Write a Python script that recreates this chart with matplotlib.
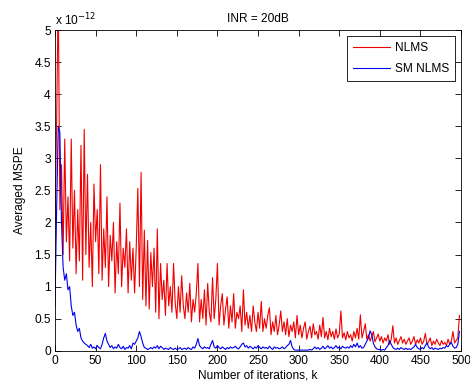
import numpy as np
import matplotlib
matplotlib.use("Agg")
import matplotlib.pyplot as plt
from matplotlib.ticker import FuncFormatter, MultipleLocator

plt.rcParams['font.family'] = ['Liberation Sans', 'DejaVu Sans']

SCALE = 1e-12
STEP = 2  # iteration spacing of the read-off samples

nlms = [
    2.0, 3.55, 5.6, 2.2, 2.9, 1.5, 3.3, 1.7, 2.4, 1.4,
    3.3, 1.6, 2.5, 1.2, 2.2, 1.4, 3.2, 1.1, 3.45, 1.5,
    2.75, 1.3, 2.0, 1.0, 2.6, 1.7, 2.2, 1.2, 2.9, 1.1,
    1.9, 1.3, 2.4, 1.0, 1.8, 1.4, 2.0, 0.9, 1.7, 1.2,
    2.3, 1.0, 1.6, 1.3, 1.9, 0.9, 1.7, 1.1, 1.6, 0.9,
    1.6, 2.53, 1.0, 2.78, 0.8, 1.88, 0.7, 1.72, 0.65, 1.53,
    1.0, 1.6, 0.6, 1.9, 0.5, 1.36, 0.8, 1.1, 0.55, 1.36,
    0.7, 1.0, 0.6, 1.36, 0.75, 0.5, 1.0, 0.6, 1.17, 0.7,
    0.5, 0.9, 0.6, 1.05, 0.45, 0.8, 0.6, 0.9, 1.36, 0.45,
    0.8, 0.5, 0.95, 0.4, 1.05, 0.6, 0.45, 1.14, 0.5, 0.8,
    1.36, 0.4, 0.7, 0.89, 0.4, 0.65, 0.84, 0.35, 0.7, 0.45,
    0.89, 0.35, 0.6, 0.5, 0.7, 0.3, 0.95, 0.4, 0.6, 0.35,
    0.55, 0.3, 0.7, 0.45, 0.3, 0.6, 0.35, 0.77, 0.3, 0.5,
    0.35, 0.55, 0.67, 0.25, 0.45, 0.3, 0.55, 0.25, 0.4, 0.62,
    0.3, 0.45, 0.25, 0.5, 0.22, 0.4, 0.3, 0.45, 0.2, 0.55,
    0.25, 0.4, 0.2, 0.35, 0.45, 0.18, 0.3, 0.38, 0.2, 0.42,
    0.25, 0.3, 0.18, 0.4, 0.22, 0.52, 0.2, 0.3, 0.17, 0.35,
    0.22, 0.3, 0.18, 0.34, 0.2, 0.26, 0.62, 0.2, 0.28, 0.17,
    0.3, 0.2, 0.25, 0.15, 0.3, 0.2, 0.35, 0.18, 0.56, 0.2,
    0.3, 0.42, 0.18, 0.25, 0.15, 0.22, 0.3, 0.14, 0.2, 0.26,
    0.15, 0.22, 0.12, 0.2, 0.15, 0.25, 0.1, 0.18, 0.39, 0.12,
    0.2, 0.1, 0.16, 0.22, 0.12, 0.18, 0.1, 0.15, 0.2, 0.1,
    0.15, 0.22, 0.1, 0.17, 0.12, 0.2, 0.1, 0.15, 0.27, 0.1,
    0.14, 0.2, 0.08, 0.15, 0.1, 0.18, 0.12, 0.08, 0.16, 0.1,
    0.13, 0.08, 0.18, 0.1, 0.15, 0.3, 0.12, 0.16, 0.2, 0.55,
]

sm_nlms = [
    0.7, 2.2, 3.5, 3.4, 2.0, 1.3, 1.1, 1.2, 0.95, 1.0,
    0.7, 0.55, 0.6, 0.4, 0.3, 0.35, 0.2, 0.15, 0.12, 0.1,
    0.08, 0.05, 0.1, 0.04, 0.06, 0.03, 0.08, 0.05, 0.03, 0.1,
    0.2, 0.27, 0.15, 0.1, 0.05, 0.08, 0.03, 0.06, 0.04, 0.1,
    0.05, 0.03, 0.07, 0.02, 0.05, 0.04, 0.08, 0.03, 0.12, 0.1,
    0.15, 0.2, 0.3, 0.22, 0.12, 0.05, 0.04, 0.02, 0.03, 0.05,
    0.03, 0.06, 0.04, 0.08, 0.03, 0.07, 0.05, 0.02, 0.04, 0.03,
    0.02, 0.05, 0.03, 0.02, 0.04, 0.02, 0.03, 0.05, 0.02, 0.03,
    0.04, 0.02, 0.05, 0.03, 0.02, 0.06, 0.04, 0.1, 0.19, 0.08,
    0.05, 0.03, 0.06, 0.04, 0.05, 0.03, 0.1, 0.16, 0.06, 0.04,
    0.08, 0.05, 0.03, 0.06, 0.04, 0.02, 0.05, 0.03, 0.06, 0.04,
    0.05, 0.07, 0.04, 0.03, 0.06, 0.1, 0.12, 0.06, 0.08, 0.04,
    0.07, 0.05, 0.03, 0.06, 0.04, 0.08, 0.05, 0.03, 0.06, 0.04,
    0.05, 0.03, 0.07, 0.04, 0.02, 0.06, 0.04, 0.05, 0.03, 0.04,
    0.06, 0.03, 0.05, 0.08, 0.1, 0.16, 0.06, 0.02, 0.01, 0.01,
    0.01, 0.01, 0.01, 0.01, 0.01, 0.01, 0.01, 0.02, 0.01, 0.03,
    0.06, 0.03, 0.05, 0.02, 0.04, 0.07, 0.03, 0.05, 0.08, 0.04,
    0.06, 0.03, 0.05, 0.08, 0.04, 0.06, 0.03, 0.07, 0.05, 0.04,
    0.06, 0.04, 0.08, 0.05, 0.1, 0.06, 0.12, 0.05, 0.08, 0.04,
    0.05, 0.1, 0.15, 0.2, 0.31, 0.25, 0.12, 0.06, 0.03, 0.02,
    0.02, 0.01, 0.02, 0.01, 0.05, 0.08, 0.16, 0.1, 0.05, 0.03,
    0.02, 0.04, 0.02, 0.05, 0.03, 0.02, 0.04, 0.02, 0.03, 0.02,
    0.04, 0.06, 0.1, 0.05, 0.03, 0.02, 0.05, 0.03, 0.08, 0.12,
    0.06, 0.03, 0.05, 0.02, 0.04, 0.03, 0.02, 0.04, 0.03, 0.05,
    0.04, 0.08, 0.06, 0.1, 0.13, 0.07, 0.04, 0.05, 0.1, 0.3,
]

series_labels = ["NLMS", "SM NLMS"]
title = "INR = 20dB"
xlabel = "Number of iterations, k"
ylabel = "Averaged MSPE"

k_nlms = np.arange(len(nlms)) * STEP
k_sm = np.arange(len(sm_nlms)) * STEP

FS = 8.6

fig = plt.figure(figsize=(4.70, 3.85), dpi=100)
ax = fig.add_axes([0.117, 0.089, 0.864, 0.833])

ax.plot(k_nlms, np.array(nlms) * SCALE, color='#f00000', lw=0.8, label=series_labels[0])
ax.plot(k_sm, np.array(sm_nlms) * SCALE, color='#0000ee', lw=0.8, label=series_labels[1])

ax.set_xlim(0, 500)
ax.set_ylim(0, 5 * SCALE)
ax.xaxis.set_major_locator(MultipleLocator(50))
ax.yaxis.set_major_locator(MultipleLocator(0.5 * SCALE))
ax.yaxis.set_major_formatter(FuncFormatter(lambda v, p: f"{v / SCALE:g}"))
ax.tick_params(direction='in', top=True, right=True, length=4, width=0.6,
               labelsize=FS, pad=3)
for s in ax.spines.values():
    s.set_linewidth(0.6)

ax.text(0.0, 1.005, "x 10$^{-12}$", transform=ax.transAxes, fontsize=FS,
        ha='left', va='bottom')
ax.set_title(title, fontsize=FS, pad=6)
ax.set_xlabel(xlabel, fontsize=FS, labelpad=2)
ax.set_ylabel(ylabel, fontsize=FS, labelpad=6)

leg = ax.legend(loc='upper right', fontsize=FS, frameon=True, fancybox=False,
                edgecolor='black', framealpha=1, handlelength=3.1,
                borderaxespad=0.5, borderpad=0.5, labelspacing=0.75, handletextpad=0.4)
leg.get_frame().set_linewidth(0.6)

fig.savefig("out.png", dpi=100)
